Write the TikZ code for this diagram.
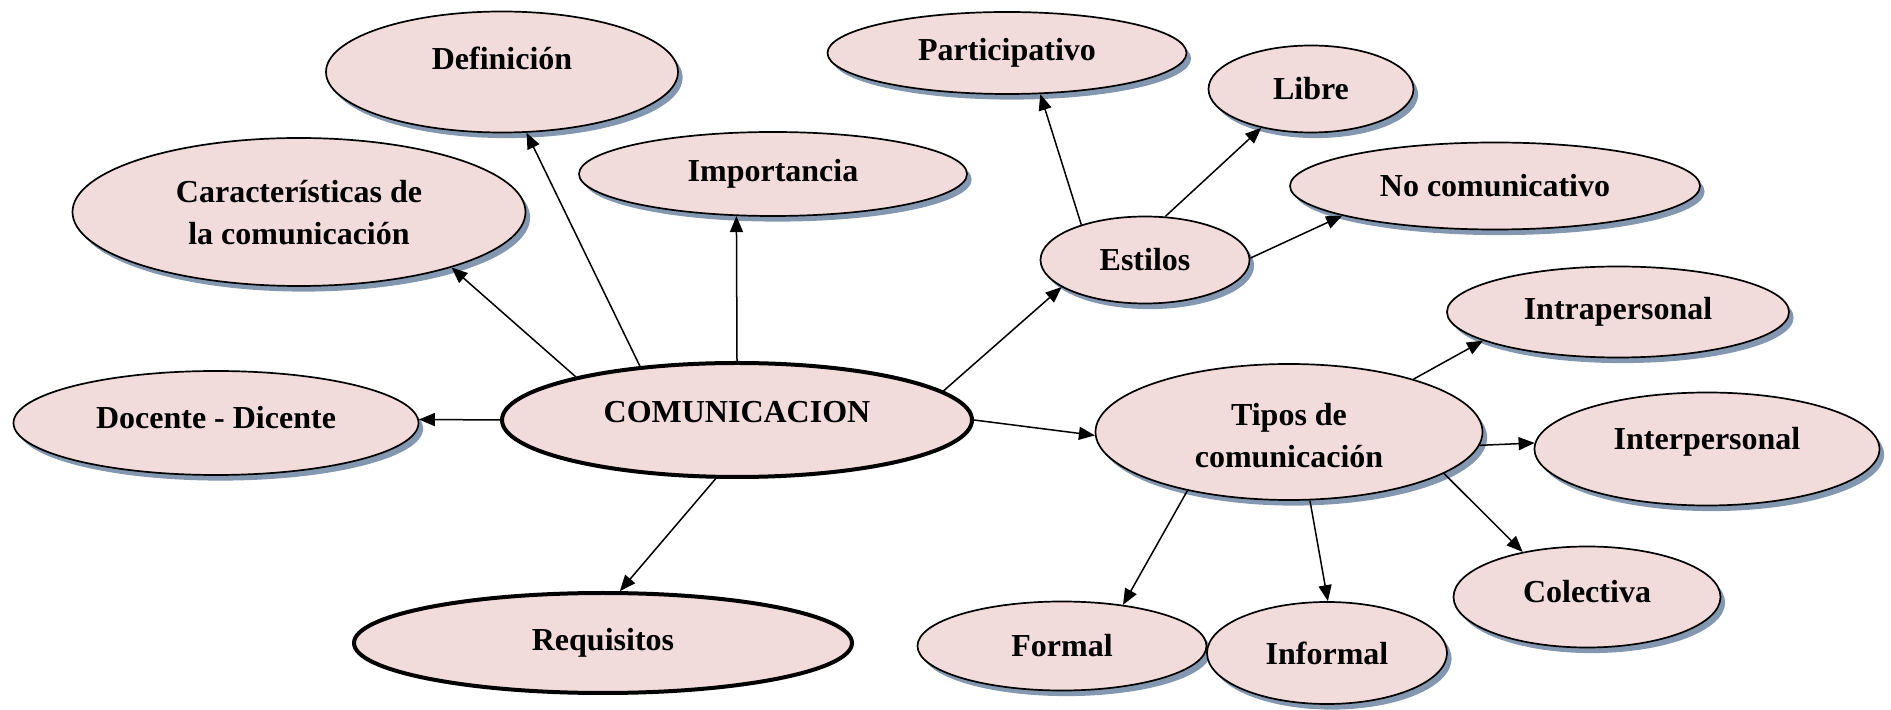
\documentclass[tikz,border=0pt]{standalone}
\usepackage{fontspec}
\setmainfont{Liberation Serif}
\usepackage{xcolor}
\usepackage{tikz}
\usetikzlibrary{shapes.geometric, shadows, arrows.meta}
\definecolor{rosa}{HTML}{F2DCDB}
\definecolor{sombra}{HTML}{8497B0}
\newcommand\subido[2]{\raisebox{#1}[\height][\depth]{#2}}

\begin{document}
\begin{tikzpicture}[x=0.5pt, y=-0.5pt,
    font=\fontsize{16}{21}\selectfont\bfseries,
    concepto/.style={ellipse, draw, line width=0.85pt, fill=rosa, inner sep=0pt, align=center,
      drop shadow={shadow xshift=2.3pt, shadow yshift=-2.8pt, fill=sombra, opacity=1}},
    principal/.style={ellipse, draw, line width=2pt, fill=rosa, inner sep=0pt, align=center},
    flecha/.style={-{Triangle[length=8pt, width=6.5pt]}, line width=0.75pt}]
    \useasboundingbox (0,0) rectangle (1891,710);

    \node [concepto, minimum width=176pt, minimum height=60.5pt] (defin) at (502,72)
      {\subido{7pt}{Definición}};
    \node [concepto, minimum width=179.5pt, minimum height=41pt] (partic) at (1007,53)
      {Participativo};
    \node [concepto, minimum width=102.5pt, minimum height=43.5pt] (libre) at (1311,89)
      {Libre};
    \node [concepto, minimum width=194pt, minimum height=42pt] (import) at (773,174)
      {Importancia};
    \node [concepto, minimum width=226.5pt, minimum height=74pt] (caract) at (299,212)
      {\subido{-1.5pt}{\begin{tabular}{@{}c@{}}Características de\\ la comunicación\end{tabular}}};
    \node [concepto, minimum width=205pt, minimum height=43.5pt] (nocom) at (1495,186)
      {No comunicativo};
    \node [concepto, minimum width=104.5pt, minimum height=43.5pt] (estilos) at (1145,260)
      {Estilos};
    \node [concepto, minimum width=171pt, minimum height=45.5pt] (intra) at (1618,312)
      {Intrapersonal};
    \node [concepto, minimum width=202.5pt, minimum height=52pt] (docente) at (216,423)
      {\subido{2.5pt}{Docente - Dicente}};
    \node [principal, minimum width=235pt, minimum height=57pt] (comm) at (737,420)
      {\subido{4pt}{COMUNICACION}};
    \node [concepto, minimum width=193.5pt, minimum height=68pt] (tipos) at (1289,432)
      {\subido{-3pt}{\begin{tabular}{@{}c@{}}Tipos de\\ comunicación\end{tabular}}};
    \node [concepto, minimum width=172.5pt, minimum height=56.5pt] (inter) at (1707,449)
      {\subido{3.5pt}{Interpersonal}};
    \node [concepto, minimum width=133.5pt, minimum height=50.5pt] (colect) at (1587,597)
      {\subido{2.5pt}{Colectiva}};
    \node [principal, minimum width=249pt, minimum height=50pt] (requis) at (603,643)
      {Requisitos};
    \node [concepto, minimum width=144.5pt, minimum height=44.5pt] (formal) at (1062,646)
      {Formal};
    \node [concepto, minimum width=120pt, minimum height=51pt] (informal) at (1327,653)
      {Informal};

    \draw [flecha] (comm.151) -- (defin.292);
    \draw [flecha] (comm.165) -- (caract.340);
    \draw [flecha] (comm.90) -- (import.229);
    \draw [flecha] (comm.180) -- (docente.1);
    \draw [flecha] (comm.250) -- (requis.72);
    \draw [flecha] (comm.8) -- (estilos.198);
    \draw [flecha] (comm.0) -- (tipos.181);

    \draw [flecha] (estilos.151) -- (partic.309);
    \draw [flecha] (estilos.65) -- (libre.218);
    \draw [flecha] (estilos.1) -- (nocom.191);

    \draw [flecha] (tipos.23) -- (intra.192);
    \draw [flecha] (tipos.356) -- (inter.178);
    \draw [flecha] (tipos.345) -- (colect.145);
    \draw [flecha] (tipos.210) -- (formal.34);
    \draw [flecha] (tipos.287) -- (informal.89);
\end{tikzpicture}
\end{document}
